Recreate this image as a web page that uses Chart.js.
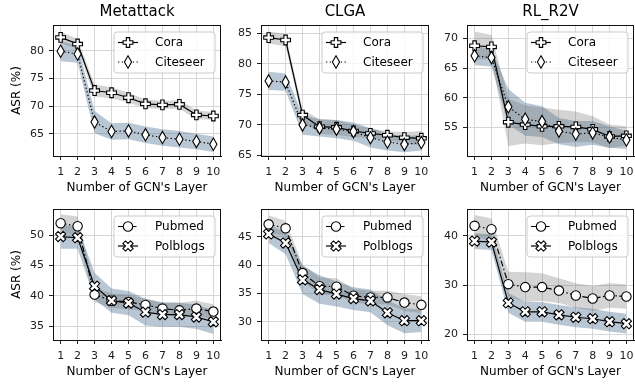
<!DOCTYPE html>
<html><head><meta charset="utf-8">
<script src="https://cdn.jsdelivr.net/npm/chart.js@4/dist/chart.umd.min.js"></script>
<style>
html,body{margin:0;padding:0;background:#fff;overflow:hidden;width:635px;height:385px;}
canvas{position:absolute;}
</style></head><body>
<script>
// ---------- data ----------
const layers = [1, 2, 3, 4, 5, 6, 7, 8, 9, 10];
const titles = ['Metattack', 'CLGA', 'RL_R2V'];
const topNames = ['Cora', 'Citeseer'];
const bottomNames = ['Pubmed', 'Polblogs'];
const xLabel = "Number of GCN's Layer";
const yLabel = 'ASR (%)';

// top row (Cora / Citeseer): means and std
const metaCora      = [82.4, 81.2, 72.8, 72.4, 71.5, 70.4, 70.2, 70.3, 68.4, 68.2];
const metaCoraStd   = [1.0, 0.9, 1.1, 1.0, 0.9, 0.8, 0.7, 0.8, 0.8, 0.7];
const metaCiteseer    = [79.9, 79.4, 67.1, 65.4, 65.5, 64.8, 64.3, 64.0, 63.6, 63.1];
const metaCiteseerStd = [1.8, 1.6, 2.0, 1.5, 1.5, 1.5, 1.5, 1.5, 1.4, 1.4];

const clgaCora      = [84.3, 83.9, 71.6, 69.7, 69.6, 69.0, 68.6, 68.3, 67.9, 67.8];
const clgaCoraStd   = [1.0, 1.0, 0.9, 1.2, 1.2, 1.0, 0.8, 0.7, 0.9, 1.2];
const clgaCiteseer    = [77.2, 77.0, 70.0, 69.5, 69.3, 68.9, 67.9, 67.2, 66.8, 67.1];
const clgaCiteseerStd = [1.5, 1.4, 1.6, 1.4, 1.5, 1.5, 1.6, 1.4, 1.3, 1.3];

const rlCora      = [68.8, 68.6, 55.9, 55.5, 55.2, 55.2, 55.1, 54.7, 53.5, 53.6];
const rlCoraStd   = [2.4, 2.0, 4.0, 3.2, 3.2, 2.8, 2.6, 2.2, 2.0, 1.6];
const rlCiteseer    = [67.1, 66.8, 58.5, 56.4, 56.0, 54.4, 53.9, 54.1, 53.4, 52.9];
const rlCiteseerStd = [1.6, 1.5, 3.0, 2.8, 2.6, 2.2, 2.2, 2.0, 1.8, 1.5];

// bottom row (Pubmed / Polblogs)
const metaPubmed      = [52.0, 51.5, 40.2, 39.2, 39.0, 38.5, 37.9, 37.6, 37.9, 37.4];
const metaPubmedStd   = [1.5, 1.6, 1.2, 1.2, 1.2, 1.0, 1.0, 1.2, 1.3, 1.2];
const metaPolblogs    = [49.8, 49.6, 41.6, 39.2, 38.8, 37.3, 36.9, 36.9, 36.5, 35.7];
const metaPolblogsStd = [2.0, 1.8, 2.2, 2.0, 2.0, 2.2, 2.0, 2.0, 2.0, 2.0];

const clgaPubmed      = [47.2, 46.5, 38.6, 36.3, 36.2, 34.6, 34.3, 34.3, 33.4, 33.0];
const clgaPubmedStd   = [1.6, 1.3, 1.5, 1.5, 1.5, 1.2, 1.2, 1.2, 1.5, 1.5];
const clgaPolblogs    = [45.5, 43.9, 37.4, 35.7, 34.9, 34.1, 33.7, 31.6, 30.2, 30.2];
const clgaPolblogsStd = [1.6, 2.0, 2.5, 2.5, 2.2, 2.0, 2.0, 2.2, 2.2, 2.0];

const rlPubmed      = [42.0, 41.3, 30.2, 29.6, 29.6, 28.9, 27.9, 27.3, 27.9, 27.7];
const rlPubmedStd   = [2.2, 2.2, 2.5, 3.0, 2.8, 2.5, 2.5, 2.5, 2.5, 2.5];
const rlPolblogs    = [38.9, 38.7, 26.4, 24.6, 24.6, 24.0, 23.5, 23.2, 22.6, 22.2];
const rlPolblogsStd = [1.6, 1.6, 2.0, 2.0, 2.0, 2.0, 2.0, 2.0, 2.0, 2.0];

// axis ticks / ranges
const xTicks = layers;
const yTicksTop = [[65, 70, 75, 80], [65, 70, 75, 80, 85], [55, 60, 65, 70]];
const yTicksBottom = [[35, 40, 45, 50], [30, 35, 40, 45], [20, 30, 40]];
const yRangeTop = [[60.97, 84.64], [64.9, 86.36], [50.2, 72.3]];
const yRangeBottom = [[32.7, 54.35], [26.8, 49.9], [18.9, 45.4]];

// ---------- styles ----------
const FONT = "'DejaVu Sans', 'Liberation Sans', sans-serif";
const GRAY_BAND = 'rgba(100,100,100,0.28)';
const BLUE_BAND = 'rgba(60,100,135,0.36)';

function markerPath(g, kind, cx, cy) {
  g.beginPath();
  const poly = (pts, rot) => {
    pts.forEach((p, i) => {
      const x = p[0] * Math.cos(rot) - p[1] * Math.sin(rot);
      const y = p[0] * Math.sin(rot) + p[1] * Math.cos(rot);
      if (i === 0) g.moveTo(cx + x, cy + y); else g.lineTo(cx + x, cy + y);
    });
    g.closePath();
  };
  if (kind === 'P' || kind === 'X') {
    const a = kind === 'P' ? 4.9 : 5.4, b = kind === 'P' ? 1.7 : 1.8;
    const pts = [[-b,-a],[b,-a],[b,-b],[a,-b],[a,b],[b,b],[b,a],[-b,a],[-b,b],[-a,b],[-a,-b],[-b,-b]];
    poly(pts, kind === 'X' ? Math.PI / 4 : 0);
  } else if (kind === 'd') {
    poly([[0,-6.2],[3.6,0],[0,6.2],[-3.6,0]], 0);
  } else {
    g.arc(cx, cy, 4.7, 0, Math.PI * 2);
  }
}
function drawMarker(g, kind, cx, cy) {
  g.save();
  g.setLineDash([]);
  g.fillStyle = '#fff'; g.strokeStyle = '#000'; g.lineWidth = 1.1; g.lineJoin = 'miter';
  markerPath(g, kind, cx, cy);
  g.fill(); g.stroke();
  g.restore();
}

const topStyles = [
  { marker: 'P', dash: [], band: GRAY_BAND },
  { marker: 'd', dash: [1.3, 2.4], band: BLUE_BAND }
];
const bottomStyles = [
  { marker: 'o', dash: [6, 2.5, 1.5, 2.5], band: GRAY_BAND },
  { marker: 'X', dash: [], band: BLUE_BAND }
];

// ---------- layout ----------
const colLeft = [53, 261, 467];
const colWidth = [168, 168, 167];
const rowTop = [25, 209];
const plotH = 131;
const PAD_L = 50, PAD_R = 6, PAD_T = 25, AX_H = 44;

const decor = {
  id: 'decor',
  afterDatasetsDraw(chart) {
    const ctx = chart.ctx;
    chart.data.datasets.forEach((ds, i) => {
      if (!ds.markerKind) return;
      chart.getDatasetMeta(i).data.forEach(pt => drawMarker(ctx, ds.markerKind, pt.x, pt.y));
    });
  },
  afterDraw(chart, args, p) {
    const ctx = chart.ctx, a = chart.chartArea;
    ctx.save();
    ctx.fillStyle = '#000';
    // frame
    ctx.strokeStyle = '#111'; ctx.lineWidth = 1; ctx.setLineDash([]);
    ctx.strokeRect(Math.round(a.left) + 0.5, Math.round(a.top) + 0.5,
                   Math.round(a.right - a.left) - 1, Math.round(a.bottom - a.top));
    // title
    if (p.title) {
      ctx.font = '15px ' + FONT; ctx.textAlign = 'center'; ctx.textBaseline = 'middle';
      ctx.fillText(p.title, (a.left + a.right) / 2, a.top - 13.3);
    }
    // x label
    ctx.font = '12px ' + FONT; ctx.textAlign = 'center'; ctx.textBaseline = 'middle';
    ctx.fillText(xLabel, (a.left + a.right) / 2, a.bottom + 32.3);
    // y label
    if (p.ylabel) {
      ctx.save();
      ctx.translate(a.left - 36.6, (a.top + a.bottom) / 2);
      ctx.rotate(-Math.PI / 2);
      ctx.fillText(p.ylabel, 0, 0);
      ctx.restore();
    }
    // legend
    const w = 101, h = 41, r = 3;
    const lx = a.right - 6 - w, ly = a.top + 7;
    ctx.beginPath();
    ctx.moveTo(lx + r, ly); ctx.lineTo(lx + w - r, ly); ctx.arcTo(lx + w, ly, lx + w, ly + r, r);
    ctx.lineTo(lx + w, ly + h - r); ctx.arcTo(lx + w, ly + h, lx + w - r, ly + h, r);
    ctx.lineTo(lx + r, ly + h); ctx.arcTo(lx, ly + h, lx, ly + h - r, r);
    ctx.lineTo(lx, ly + r); ctx.arcTo(lx, ly, lx + r, ly, r); ctx.closePath();
    ctx.fillStyle = 'rgba(255,255,255,0.8)'; ctx.fill();
    ctx.strokeStyle = '#cccccc'; ctx.lineWidth = 1; ctx.stroke();
    p.legend.forEach((e, i) => {
      const y = ly + 10.5 + i * 19.5;
      ctx.beginPath(); ctx.setLineDash(e.dash); ctx.strokeStyle = '#000'; ctx.lineWidth = 1.2;
      ctx.moveTo(lx + 4, y); ctx.lineTo(lx + 24, y); ctx.stroke(); ctx.setLineDash([]);
      drawMarker(ctx, e.marker, lx + 14, y);
      ctx.fillStyle = '#000'; ctx.font = '12px ' + FONT; ctx.textAlign = 'left'; ctx.textBaseline = 'middle';
      ctx.fillText(e.name, lx + 41, y + 0.5);
    });
    ctx.restore();
  }
};

const toPts = arr => layers.map((x, i) => ({ x: x, y: arr[i] }));

function buildDatasets(series, names, styles) {
  const ds = [];
  series.forEach((s, k) => {
    ds.push({ data: toPts(s.mean.map((v, i) => v + s.std[i])), borderColor: 'transparent', borderWidth: 0,
              pointRadius: 0, backgroundColor: styles[k].band, fill: '+1', order: 3, tension: 0 });
    ds.push({ data: toPts(s.mean.map((v, i) => v - s.std[i])), borderColor: 'transparent', borderWidth: 0,
              pointRadius: 0, fill: false, order: 3, tension: 0 });
  });
  series.forEach((s, k) => {
    ds.push({ label: names[k], data: toPts(s.mean), borderColor: '#000', borderWidth: 1.2,
              borderDash: styles[k].dash, pointRadius: 0, markerKind: styles[k].marker,
              fill: false, order: 1, tension: 0 });
  });
  return ds;
}

const panels = [
  { row: 0, col: 0, series: [{ mean: metaCora, std: metaCoraStd }, { mean: metaCiteseer, std: metaCiteseerStd }] },
  { row: 0, col: 1, series: [{ mean: clgaCora, std: clgaCoraStd }, { mean: clgaCiteseer, std: clgaCiteseerStd }] },
  { row: 0, col: 2, series: [{ mean: rlCora, std: rlCoraStd }, { mean: rlCiteseer, std: rlCiteseerStd }] },
  { row: 1, col: 0, series: [{ mean: metaPubmed, std: metaPubmedStd }, { mean: metaPolblogs, std: metaPolblogsStd }] },
  { row: 1, col: 1, series: [{ mean: clgaPubmed, std: clgaPubmedStd }, { mean: clgaPolblogs, std: clgaPolblogsStd }] },
  { row: 1, col: 2, series: [{ mean: rlPubmed, std: rlPubmedStd }, { mean: rlPolblogs, std: rlPolblogsStd }] }
];

panels.forEach(pn => {
  const names = pn.row === 0 ? topNames : bottomNames;
  const styles = pn.row === 0 ? topStyles : bottomStyles;
  const yTicks = pn.row === 0 ? yTicksTop[pn.col] : yTicksBottom[pn.col];
  const yRange = pn.row === 0 ? yRangeTop[pn.col] : yRangeBottom[pn.col];
  const cv = document.createElement('canvas');
  const W = PAD_L + colWidth[pn.col] + PAD_R, H = PAD_T + plotH + AX_H;
  cv.width = W; cv.height = H;
  cv.style.left = (colLeft[pn.col] - PAD_L) + 'px';
  cv.style.top = (rowTop[pn.row] - PAD_T) + 'px';
  cv.style.width = W + 'px'; cv.style.height = H + 'px';
  document.body.appendChild(cv);
  const tickFont = { family: FONT, size: 11 };
  new Chart(cv, {
    type: 'line',
    data: { datasets: buildDatasets(pn.series, names, styles) },
    plugins: [decor],
    options: {
      responsive: false, animation: false, devicePixelRatio: 1,
      layout: { padding: { left: 0, right: PAD_R, top: PAD_T, bottom: 0 } },
      plugins: {
        legend: { display: false }, tooltip: { enabled: false }, title: { display: false },
        decor: {
          title: pn.row === 0 ? titles[pn.col] : null,
          ylabel: pn.col === 0 ? yLabel : null,
          legend: names.map((n, k) => ({ name: n, marker: styles[k].marker, dash: styles[k].dash }))
        }
      },
      scales: {
        x: {
          type: 'linear', min: 0.55, max: 10.45,
          afterBuildTicks: s => { s.ticks = xTicks.map(v => ({ value: v })); },
          afterFit: s => { s.height = AX_H; },
          ticks: { font: tickFont, color: '#222', padding: 6, autoSkip: false, maxRotation: 0,
                   callback: v => String(v) },
          grid: { color: '#d6d6d6', lineWidth: 1, tickColor: '#222', tickLength: 4, drawTicks: true },
          border: { display: true, color: '#111', width: 1 }
        },
        y: {
          type: 'linear', min: yRange[0], max: yRange[1],
          afterBuildTicks: s => { s.ticks = yTicks.map(v => ({ value: v })); },
          afterFit: s => { s.width = PAD_L; },
          ticks: { font: tickFont, color: '#222', padding: 5, autoSkip: false, callback: v => String(v) },
          grid: { color: '#d6d6d6', lineWidth: 1, tickColor: '#222', tickLength: 4, drawTicks: true },
          border: { display: true, color: '#111', width: 1 }
        }
      }
    }
  });
});
</script>
</body></html>
